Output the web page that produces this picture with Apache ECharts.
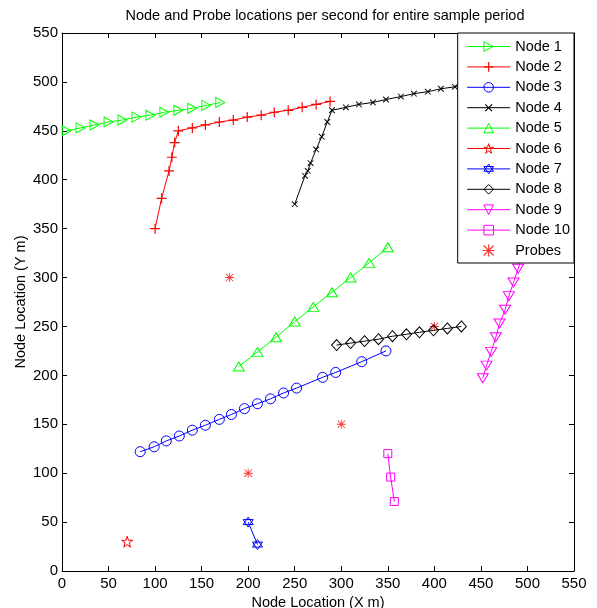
<!DOCTYPE html>
<html>
<head>
<meta charset="utf-8">
<script src="https://cdn.jsdelivr.net/npm/echarts@6/dist/echarts.min.js"></script>
<style>
  html, body { margin: 0; padding: 0; background: #fff; overflow: hidden; }
  #chart { width: 597px; height: 608px; }
</style>
</head>
<body>
<div id="chart"></div>
<script>
// node tracks, [x, y] in metres
const node1 = [[5, 450], [20, 453], [35, 456], [50, 459], [65, 461], [80, 464], [95, 466], [110, 469], [125, 471], [140, 473], [155, 476], [170, 479]]
const node2 = [[100, 350], [107, 381], [115, 409], [118, 423], [121, 438], [125, 450], [140, 453], [154, 456], [169, 459], [184, 461], [199, 464], [214, 466], [228, 469], [243, 471], [258, 474], [273, 477], [288, 480]]
const node3 = [[84, 122], [99, 127], [112, 133], [126, 138], [140, 144], [154, 149], [169, 155], [182, 160], [196, 166], [210, 171], [224, 176], [238, 182], [252, 187], [280, 198], [294, 203], [322, 214], [348, 225]]
const node4 = [[250, 375], [261, 404], [264, 409], [267, 417], [273, 431], [279, 444], [285, 459], [290, 471], [305, 474], [319, 477], [334, 479], [348, 482], [364, 485], [378, 488], [393, 490], [407, 493], [422, 495], [436, 498], [450, 500]]
const node5 = [[190, 209], [210, 224], [230, 239], [250, 255], [270, 270], [290, 285], [310, 300], [330, 315], [350, 331]]
const node6 = [[70, 30]]
const node7 = [[200, 50], [210, 27]]
const node8 = [[295, 231], [310, 233], [325, 235], [340, 237], [355, 240], [370, 242], [384, 244], [399, 246], [414, 248], [429, 250]]
const node9 = [[452, 197], [456, 210], [461, 224], [466, 239], [470, 253], [476, 267], [480, 281], [485, 295], [490, 309], [495, 324], [500, 338]]
const node10 = [[350, 120], [353, 96], [357, 71]]
const probes = [[180, 300], [200, 100], [300, 150], [400, 250]]

const axisTicks = [0, 550, 50]

// marker shapes
const sym = {
  right: 'path://M0,0 L10,5 L0,10 Z',
  up: 'path://M5,0 L10,9 L0,9 Z',
  down: 'path://M0,0 L10,0 L5,9 Z',
  circle: 'path://M5,0 A5,5 0 1 1 5,10 A5,5 0 1 1 5,0 Z',
  plus: 'path://M4.4,0H5.6V4.4H10V5.6H5.6V10H4.4V5.6H0V4.4H4.4Z',
  diamond: 'path://M5,0 L10,5 L5,10 L0,5 Z',
  square: 'path://M0,0 H10 V10 H0 Z',
  hexagram: 'path://M5,0 L9.33,7.5 L0.67,7.5 Z M5,10 L0.67,2.5 L9.33,2.5 Z',
  pentagram: 'path://M5,0 L6.18,3.6 L10,3.6 L6.9,5.85 L8.1,9.5 L5,7.25 L1.9,9.5 L3.1,5.85 L0,3.6 L3.82,3.6 Z',
  star: 'path://M4.5,0H5.5V4.5H10V5.5H5.5V10H4.5V5.5H0V4.5H4.5Z M1.2,0.5 L9.5,8.8 L8.8,9.5 L0.5,1.2 Z M8.8,0.5 L9.5,1.2 L1.2,9.5 L0.5,8.8 Z'
}

const FONT = 'Liberation Sans, Arial, Helvetica, sans-serif'
const CLEAR = 'rgba(0,0,0,0)'

function hollowLine(name, data, color, symbol, size, extra) {
  return Object.assign({
    name,
    type: 'line',
    data,
    symbol,
    symbolSize: size,
    showAllSymbol: true,
    lineStyle: { color, width: 1 },
    itemStyle: { color: CLEAR, borderColor: color, borderWidth: 1 },
    emphasis: { disabled: true }
  }, extra || {})
}

function filledLine(name, data, color, symbol, size, extra) {
  return Object.assign({
    name,
    type: 'line',
    data,
    symbol,
    symbolSize: size,
    showAllSymbol: true,
    lineStyle: { color, width: 1 },
    itemStyle: { color, borderWidth: 0 },
    emphasis: { disabled: true }
  }, extra || {})
}

// legend entries, hollow or filled icon like the plot
function hollowItem(name, color) {
  return { name, itemStyle: { color: CLEAR, borderColor: color, borderWidth: 1 } }
}
function filledItem(name, color) {
  return { name, itemStyle: { color, borderColor: color, borderWidth: 0 } }
}

const baseAxis = {
  type: 'value',
  min: axisTicks[0],
  max: axisTicks[1],
  interval: axisTicks[2],
  splitLine: { show: false },
  nameMoveOverlap: false,
  axisLine: { show: true, onZero: false, lineStyle: { color: '#000', width: 1 } },
  axisTick: { show: true, inside: true, length: 5, lineStyle: { color: '#000' } }
}

const chart = echarts.init(document.getElementById('chart'), null, { renderer: 'canvas' })

chart.setOption({
  animation: false,
  backgroundColor: '#fff',
  title: {
    text: 'Node and Probe locations per second for entire sample period',
    left: 320,
    top: 3,
    textAlign: 'center',
    textStyle: { fontFamily: FONT, fontSize: 14.5, fontWeight: 'normal', color: '#000' }
  },
  // keep the plot box where it is, labels may sit outside
  grid: { left: 62, right: 23, top: 33, bottom: 37, outerBoundsMode: 'none', containLabel: false },
  legend: {
    orient: 'vertical',
    right: 23,
    top: 33,
    z: 10,
    backgroundColor: '#fff',
    borderColor: '#000',
    borderWidth: 1,
    padding: [6, 4, 5, 9],
    itemWidth: 43,
    itemHeight: 12,
    itemGap: 5.4,
    lineStyle: { width: 1 },
    textStyle: { fontFamily: FONT, fontSize: 14.5, lineHeight: 14, color: '#000' },
    data: [
      hollowItem('Node 1', '#00ff00'),
      filledItem('Node 2', '#ff0000'),
      hollowItem('Node 3', '#0000ff'),
      filledItem('Node 4', '#000000'),
      hollowItem('Node 5', '#00ff00'),
      hollowItem('Node 6', '#ff0000'),
      hollowItem('Node 7', '#0000ff'),
      hollowItem('Node 8', '#000000'),
      hollowItem('Node 9', '#ff00ff'),
      hollowItem('Node 10', '#ff00ff'),
      filledItem('Probes', '#ff0000')
    ]
  },
  xAxis: [
    Object.assign({}, baseAxis, {
      position: 'bottom',
      name: 'Node Location (X m)',
      nameLocation: 'middle',
      nameGap: 24,
      nameTextStyle: { fontFamily: FONT, fontSize: 14.5, color: '#000' },
      axisLabel: { fontFamily: FONT, fontSize: 15, color: '#000', margin: 5 }
    }),
    Object.assign({}, baseAxis, { position: 'top', axisLabel: { show: false } })
  ],
  yAxis: [
    Object.assign({}, baseAxis, {
      position: 'left',
      name: 'Node Location (Y m)',
      nameLocation: 'middle',
      nameGap: 34,
      nameTextStyle: { fontFamily: FONT, fontSize: 14.5, color: '#000' },
      axisLabel: { fontFamily: FONT, fontSize: 15, color: '#000', margin: 4 }
    }),
    Object.assign({}, baseAxis, { position: 'right', axisLabel: { show: false } })
  ],
  series: [
    hollowLine('Node 1', node1, '#00ff00', sym.right, [9, 10]),
    filledLine('Node 2', node2, '#ff0000', sym.plus, 10),
    hollowLine('Node 3', node3, '#0000ff', sym.circle, 10),
    filledLine('Node 4', node4, '#000000', sym.plus, 8, { symbolRotate: 45 }),
    hollowLine('Node 5', node5, '#00ff00', sym.up, [11, 9]),
    hollowLine('Node 6', node6, '#ff0000', sym.pentagram, 11),
    hollowLine('Node 7', node7, '#0000ff', sym.hexagram, 10),
    hollowLine('Node 8', node8, '#000000', sym.diamond, [10, 11]),
    hollowLine('Node 9', node9, '#ff00ff', sym.down, [11, 9]),
    hollowLine('Node 10', node10, '#ff00ff', sym.square, 8),
    {
      name: 'Probes',
      type: 'scatter',
      data: probes,
      symbol: sym.star,
      symbolSize: 9,
      itemStyle: { color: '#ff0000', borderWidth: 0 },
      emphasis: { disabled: true }
    }
  ]
})
</script>
</body>
</html>
